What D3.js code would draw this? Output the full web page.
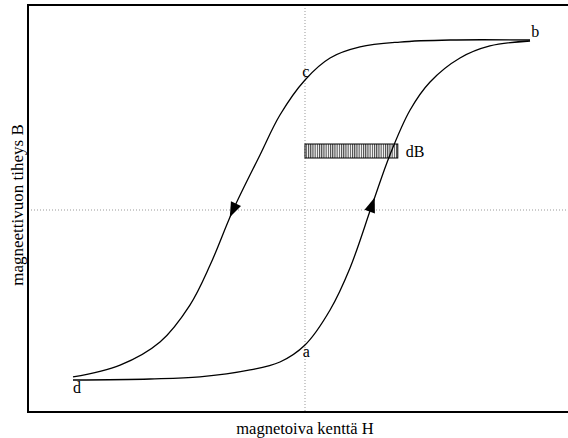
<!DOCTYPE html>
<html>
<head>
<meta charset="utf-8">
<script src="https://cdn.jsdelivr.net/npm/d3@7"></script>
<style>
  body { margin: 0; background: #fff; }
  svg text { font-family: "Liberation Serif", "Times New Roman", serif; font-size: 16px; fill: #000; }
</style>
</head>
<body>
<div id="chart"></div>
<script>
// Lower (rising) branch d -> a -> b
const riseH = [-1.0, -0.668, -0.453, -0.237, -0.108, 0, 0.108, 0.194, 0.289, 0.366, 0.453, 0.539, 0.668, 0.797, 0.97];
const riseB = [-1.0, -0.994, -0.982, -0.941, -0.894, -0.794, -0.588, -0.341, 0.029, 0.324, 0.588, 0.753, 0.894, 0.965, 0.994];
// Upper (falling) branch b -> c -> d
const fallH = [0.97, 0.625, 0.409, 0.237, 0.108, 0, -0.108, -0.194, -0.31, -0.409, -0.496, -0.625, -0.797, -1.0];
const fallB = [1.0, 1.0, 0.988, 0.959, 0.894, 0.765, 0.559, 0.324, 0, -0.324, -0.559, -0.776, -0.912, -0.982];

const pointLabels = [
  { t: 'a', h: -0.01, b: -0.865 },
  { t: 'b', h: 0.975, b: 1.015 },
  { t: 'c', h: -0.012, b: 0.78 },
  { t: 'd', h: -1.0, b: -1.075 }
];
const dB = { h0: 0, h1: 0.40, b: 0.347, label: 'dB' };
const arrowIdx = { rise: 8, fall: 8 };

const width = 568, height = 438;
const frame = { left: 28, top: 5, bottom: 412 };

const x = d3.scaleLinear().domain([-1, 1]).range([73, 537]);
const y = d3.scaleLinear().domain([-1, 1]).range([380, 40]);

const svg = d3.select('#chart').append('svg')
  .attr('width', width)
  .attr('height', height);

// hatch pattern for the dB bar
svg.append('defs').append('pattern')
  .attr('id', 'hatch')
  .attr('patternUnits', 'userSpaceOnUse')
  .attr('width', 2.2).attr('height', 10)
  .append('line')
  .attr('x1', 0.6).attr('x2', 0.6)
  .attr('y1', 0).attr('y2', 10)
  .attr('stroke', '#000').attr('stroke-width', 0.8);

// dotted zero lines
svg.append('line')
  .attr('x1', x(0)).attr('x2', x(0))
  .attr('y1', frame.top).attr('y2', frame.bottom)
  .attr('stroke', '#999').attr('stroke-dasharray', '1,2');
svg.append('line')
  .attr('x1', frame.left).attr('x2', width)
  .attr('y1', y(0)).attr('y2', y(0))
  .attr('stroke', '#999').attr('stroke-dasharray', '1,2');

// frame
svg.append('path')
  .attr('d', `M${width},${frame.top}H${frame.left}V${frame.bottom}H${width}`)
  .attr('fill', 'none')
  .attr('stroke', '#000')
  .attr('stroke-width', 2);

const line = d3.line()
  .x(d => x(d[0]))
  .y(d => y(d[1]))
  .curve(d3.curveCatmullRom.alpha(0.5));

const rise = riseH.map((h, i) => [h, riseB[i]]);
const fall = fallH.map((h, i) => [h, fallB[i]]);

[rise, fall].forEach(pts => {
  svg.append('path')
    .datum(pts)
    .attr('d', line)
    .attr('fill', 'none')
    .attr('stroke', '#000')
    .attr('stroke-width', 1.3);
});

// direction arrows
function arrow(pts, i) {
  const p = pts[i], a = pts[i - 1], b = pts[i + 1];
  const ang = Math.atan2(y(b[1]) - y(a[1]), x(b[0]) - x(a[0])) * 180 / Math.PI;
  svg.append('path')
    .attr('d', 'M8,0L-7,-5.5L-7,5.5Z')
    .attr('transform', `translate(${x(p[0])},${y(p[1])}) rotate(${ang})`)
    .attr('fill', '#000');
}
arrow(rise, arrowIdx.rise);
arrow(fall, arrowIdx.fall);

// dB bar
svg.append('rect')
  .attr('x', x(dB.h0))
  .attr('y', y(dB.b) - 7)
  .attr('width', x(dB.h1) - x(dB.h0))
  .attr('height', 14)
  .attr('fill', 'url(#hatch)')
  .attr('stroke', '#000')
  .attr('stroke-width', 1);
svg.append('text')
  .attr('x', x(dB.h1) + 8)
  .attr('y', y(dB.b) + 6)
  .text(dB.label);

svg.selectAll('.pt')
  .data(pointLabels)
  .join('text')
  .attr('class', 'pt')
  .attr('x', d => x(d.h))
  .attr('y', d => y(d.b))
  .text(d => d.t);

// axis titles
svg.append('text')
  .attr('x', x(0))
  .attr('y', 434)
  .attr('text-anchor', 'middle')
  .style('font-size', '16.5px')
  .text('magnetoiva kenttä H');
svg.append('text')
  .attr('transform', `translate(23,${y(0) - 5}) rotate(-90)`)
  .attr('text-anchor', 'middle')
  .style('font-size', '17px')
  .text('magneettivuon tiheys B');
</script>
</body>
</html>
